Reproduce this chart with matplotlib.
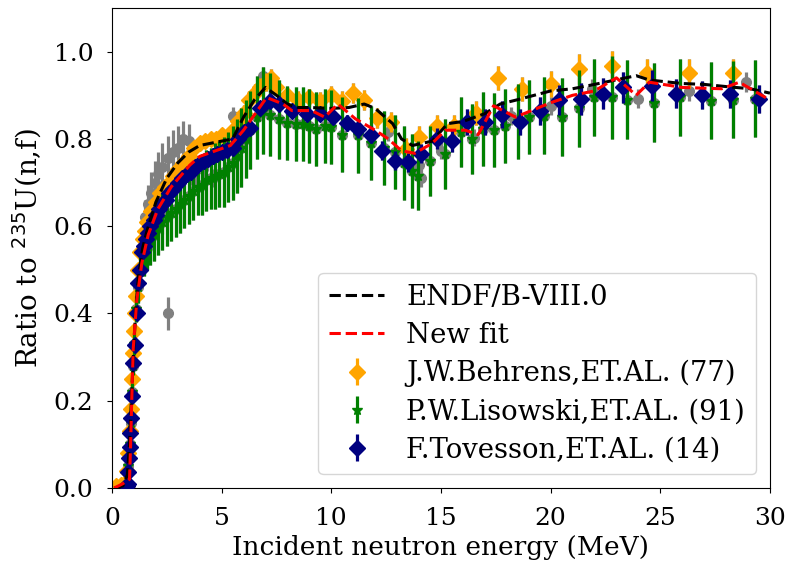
import numpy as np
import matplotlib
matplotlib.use("Agg")
import matplotlib.pyplot as plt

# evaluated curves
endf_e = [0.1, 0.5, 0.7, 0.8, 0.9, 1.0, 1.1, 1.2, 1.4, 1.6, 2.0, 2.5, 3.0, 3.5, 4.0,
          4.5, 5.0, 5.5, 6.0, 6.5, 7.0, 7.5, 8.0, 8.5, 9.0, 10.0, 10.8, 11.5, 12.0,
          12.8, 13.2, 13.7, 14.6, 15.3, 16.0, 17.0, 17.7, 18.5, 20.0, 21.0, 22.0,
          23.9, 24.5, 26.0, 27.0, 28.0, 29.1, 30.0]
endf_r = [0.0, 0.005, 0.03, 0.1, 0.22, 0.33, 0.42, 0.48, 0.55, 0.59, 0.655, 0.71,
          0.745, 0.77, 0.785, 0.79, 0.795, 0.80, 0.85, 0.89, 0.918, 0.90, 0.88,
          0.872, 0.872, 0.87, 0.872, 0.88, 0.87, 0.835, 0.80, 0.785, 0.795, 0.835,
          0.84, 0.858, 0.88, 0.89, 0.91, 0.915, 0.925, 0.945, 0.935, 0.927, 0.925,
          0.92, 0.915, 0.905]

fit_e = [0.1, 0.5, 0.8, 0.85, 0.9, 0.97, 1.13, 1.36, 1.65, 2.1, 2.7, 3.55, 4.0, 5.4,
         6.0, 7.05, 7.8, 8.2, 9.1, 9.7, 10.3, 11.1, 12.0, 12.6, 13.2, 13.8, 14.6,
         15.2, 16.1, 16.7, 17.4, 18.4, 20.0, 21.0, 22.0, 23.0, 23.9, 24.5, 26.0,
         27.8, 28.6, 29.8, 30.0]
fit_r = [0.0, 0.01, 0.02, 0.1, 0.2, 0.32, 0.43, 0.515, 0.58, 0.64, 0.69, 0.74, 0.76,
         0.785, 0.82, 0.895, 0.88, 0.865, 0.865, 0.85, 0.88, 0.846, 0.82, 0.80,
         0.773, 0.767, 0.79, 0.82, 0.82, 0.81, 0.876, 0.85, 0.883, 0.90, 0.91, 0.94,
         0.90, 0.93, 0.918, 0.915, 0.93, 0.895, 0.89]

# J.W.Behrens (77)
beh_e = [0.2, 0.4, 0.6, 0.7, 0.75, 0.8, 0.85, 0.9, 0.95, 1.0, 1.05, 1.1, 1.2, 1.3,
         1.4, 1.5, 1.6, 1.8, 2.0, 2.2, 2.4, 2.6, 2.8, 3.0, 3.25, 3.5, 3.75, 4.0,
         4.25, 4.5, 4.75, 5.0, 5.25, 5.5, 5.75, 6.0, 6.25, 6.5, 6.75, 7.0, 7.25,
         7.5, 8.0, 8.5, 9.0, 9.5, 10.0, 10.5, 11.0, 11.5, 12.1, 12.7, 13.4, 14.0,
         14.8, 15.6, 16.6, 17.6, 18.7, 20.0, 21.3, 22.8, 24.4, 26.3, 28.3]
beh_r = [0.005, 0.008, 0.012, 0.04, 0.08, 0.13, 0.18, 0.25, 0.31, 0.36, 0.40, 0.44,
         0.50, 0.54, 0.57, 0.59, 0.61, 0.635, 0.655, 0.675, 0.69, 0.70, 0.715, 0.73,
         0.745, 0.76, 0.78, 0.79, 0.795, 0.80, 0.80, 0.81, 0.805, 0.82, 0.84, 0.86,
         0.89, 0.905, 0.92, 0.93, 0.94, 0.92, 0.90, 0.89, 0.895, 0.888, 0.90, 0.888,
         0.906, 0.89, 0.847, 0.838, 0.778, 0.805, 0.83, 0.83, 0.86, 0.94, 0.915,
         0.925, 0.96, 0.967, 0.952, 0.95, 0.95]
beh_err = [0.005, 0.005, 0.005, 0.008, 0.008, 0.01, 0.01, 0.01, 0.01, 0.01, 0.01,
           0.01, 0.01, 0.012, 0.012, 0.012, 0.012, 0.015, 0.015, 0.015, 0.015, 0.015,
           0.015, 0.015, 0.015, 0.015, 0.015, 0.015, 0.015, 0.015, 0.015, 0.015,
           0.015, 0.015, 0.018, 0.018, 0.02, 0.02, 0.02, 0.02, 0.02, 0.02, 0.02,
           0.02, 0.02, 0.02, 0.022, 0.022, 0.023, 0.023, 0.023, 0.023, 0.024, 0.024,
           0.025, 0.025, 0.027, 0.027, 0.027, 0.03, 0.034, 0.034, 0.032, 0.033, 0.033]

# P.W.Lisowski (91)
lis_e = [0.75, 0.8, 0.85, 0.9, 0.95, 1.0, 1.1, 1.2, 1.3, 1.45, 1.6, 1.75, 1.9, 2.1,
         2.3, 2.5, 2.7, 2.9, 3.1, 3.3, 3.5, 3.7, 3.9, 4.1, 4.3, 4.5, 4.7, 4.9, 5.1,
         5.3, 5.5, 5.7, 5.9, 6.1, 6.3, 6.6, 6.9, 7.2, 7.6, 8.0, 8.4, 8.7, 9.0, 9.3,
         9.7, 10.0, 10.5, 11.2, 11.8, 12.4, 12.9, 13.3, 13.7, 13.95, 14.5, 15.2,
         15.9, 16.4, 16.9, 17.4, 17.9, 18.5, 19.0, 19.7, 20.5, 21.3, 22.0, 22.8,
         23.5, 24.7, 25.9, 27.3, 28.3, 29.3]
lis_r = [0.05, 0.1, 0.15, 0.22, 0.28, 0.33, 0.41, 0.46, 0.50, 0.53, 0.55, 0.565,
         0.58, 0.595, 0.61, 0.62, 0.63, 0.64, 0.65, 0.66, 0.67, 0.68, 0.69,
         0.695, 0.705, 0.71, 0.715, 0.72, 0.725, 0.735, 0.745, 0.76, 0.78, 0.80, 0.82,
         0.85, 0.865, 0.855, 0.845, 0.837, 0.835, 0.835, 0.83, 0.823, 0.83, 0.827,
         0.81, 0.808, 0.79, 0.78, 0.77, 0.745, 0.727, 0.716, 0.75, 0.766, 0.815,
         0.80, 0.823, 0.82, 0.83, 0.84, 0.85, 0.853, 0.85, 0.87, 0.895, 0.895, 0.89,
         0.883, 0.895, 0.888, 0.89, 0.892]
lis_err = [0.015, 0.015, 0.02, 0.02, 0.02, 0.025, 0.03, 0.035, 0.04, 0.045, 0.05,
           0.055, 0.06, 0.06, 0.065, 0.065, 0.065, 0.065, 0.065, 0.065, 0.065, 0.065,
           0.065, 0.07, 0.07, 0.07, 0.075, 0.075, 0.08, 0.08, 0.085, 0.085, 0.09,
           0.09, 0.09, 0.095, 0.1, 0.095, 0.09, 0.085, 0.085, 0.085, 0.085, 0.085,
           0.085, 0.085, 0.085, 0.085, 0.085, 0.085, 0.085, 0.085, 0.085, 0.08,
           0.08, 0.08, 0.08, 0.08, 0.085, 0.085, 0.085, 0.085, 0.085, 0.088, 0.09,
           0.088, 0.088, 0.095, 0.09, 0.09, 0.088, 0.088, 0.088, 0.088]

# F.Tovesson (14)
tov_e = [0.7, 0.73, 0.75, 0.78, 0.8, 0.82, 0.85, 0.9, 0.97, 1.05, 1.13, 1.2, 1.28,
         1.36, 1.45, 1.55, 1.65, 1.75, 1.9, 2.0, 2.15, 2.3, 2.45, 2.6, 2.8, 3.0, 3.2,
         3.4, 3.6, 3.8, 4.0, 4.2, 4.4, 4.6, 4.8, 5.0, 5.25, 5.5, 5.75, 6.0, 6.3,
         6.75, 7.2, 7.6, 8.2, 8.9, 9.5, 10.1, 10.7, 11.2, 11.8, 12.3, 12.9, 13.5,
         14.1, 14.8, 15.5, 16.2, 17.0, 17.8, 18.6, 19.5, 20.4, 21.4, 22.4, 23.3,
         24.6, 25.7, 26.9, 28.2, 29.5]
tov_r = [0.005, 0.01, 0.037, 0.068, 0.095, 0.125, 0.16, 0.21, 0.286, 0.327, 0.40,
         0.47, 0.50, 0.54, 0.555, 0.57, 0.585, 0.60, 0.615, 0.625, 0.64, 0.65, 0.66,
         0.675, 0.685, 0.70, 0.71, 0.72, 0.725, 0.735, 0.745, 0.75, 0.755, 0.76,
         0.765, 0.77, 0.775, 0.78, 0.80, 0.815, 0.826, 0.872, 0.888, 0.88, 0.865,
         0.858, 0.858, 0.85, 0.837, 0.823, 0.81, 0.773, 0.75, 0.746, 0.766, 0.80,
         0.796, 0.838, 0.838, 0.856, 0.838, 0.863, 0.89, 0.892, 0.904, 0.918, 0.922,
         0.904, 0.90, 0.904, 0.892]
tov_err = [0.005, 0.005, 0.005, 0.005, 0.006, 0.006, 0.007, 0.008, 0.008, 0.01,
           0.01, 0.01, 0.01, 0.01, 0.01, 0.01, 0.01, 0.012, 0.012, 0.012, 0.012,
           0.012, 0.012, 0.012, 0.012, 0.012, 0.012, 0.012, 0.012, 0.012, 0.012,
           0.012, 0.012, 0.012, 0.012, 0.012, 0.012, 0.012, 0.015, 0.015, 0.015,
           0.015, 0.015, 0.015, 0.015, 0.015, 0.015, 0.015, 0.018, 0.02, 0.02, 0.022,
           0.022, 0.022, 0.022, 0.024, 0.026, 0.03, 0.03, 0.03, 0.03, 0.032, 0.034,
           0.036, 0.036, 0.036, 0.036, 0.034, 0.032, 0.032, 0.032]

# other EXFOR data (grey only)
oth_e = [1.5, 1.65, 1.8, 1.96, 2.1, 2.3, 2.3, 2.55, 2.55, 2.8, 3.0, 3.25, 3.5, 3.7,
         4.15, 4.6, 5.5, 6.9, 8.4, 12.6, 14.0, 14.1, 15.0, 16.5, 18.2, 20.0, 21.9,
         24.0, 26.3, 28.9]
oth_r = [0.62, 0.65, 0.675, 0.70, 0.72, 0.735, 0.613, 0.757, 0.40, 0.77, 0.78, 0.80,
         0.795, 0.705, 0.73, 0.71, 0.853, 0.945, 0.835, 0.815, 0.74, 0.71, 0.773,
         0.803, 0.853, 0.876, 0.915, 0.892, 0.91, 0.93]
oth_err = [0.04, 0.045, 0.05, 0.05, 0.05, 0.055, 0.03, 0.05, 0.038, 0.05, 0.05, 0.04,
           0.04, 0.02, 0.02, 0.02, 0.02, 0.02, 0.02, 0.02, 0.02, 0.02, 0.02, 0.02,
           0.02, 0.02, 0.022, 0.022, 0.022, 0.023]

plt.rcParams['font.family'] = 'serif'
plt.rcParams['font.size'] = 18

fig = plt.figure(figsize=(7.88, 5.66), dpi=100)
ax = fig.add_axes([0.1421, 0.1378, 0.835, 0.848])

all_e = beh_e + lis_e + tov_e + oth_e
all_r = beh_r + lis_r + tov_r + oth_r
all_err = beh_err + lis_err + tov_err + oth_err
ax.errorbar(all_e, all_r, yerr=all_err, fmt='o', color='gray', ms=7,
            elinewidth=2.3, zorder=1)

h1 = ax.errorbar(beh_e, beh_r, yerr=beh_err, fmt='D', color='orange', ms=8,
                 elinewidth=2.3, label='J.W.Behrens,ET.AL. (77)', zorder=2)
h2 = ax.errorbar(lis_e, lis_r, yerr=lis_err, fmt='*', color='green', ms=7,
                 elinewidth=2.3, label='P.W.Lisowski,ET.AL. (91)', zorder=3)
h3 = ax.errorbar(tov_e, tov_r, yerr=tov_err, fmt='D', color='navy', ms=8,
                 elinewidth=2.3, label='F.Tovesson,ET.AL. (14)', zorder=4)
l1, = ax.plot(endf_e, endf_r, '--', color='black', lw=2.2, label='ENDF/B-VIII.0',
              zorder=5)
l2, = ax.plot(fit_e, fit_r, '--', color='red', lw=2.2, label='New fit', zorder=6)

ax.set_xlim(0, 30)
ax.set_ylim(0, 1.1)
ax.set_xticks([0, 5, 10, 15, 20, 25, 30])
ax.set_yticks([0.0, 0.2, 0.4, 0.6, 0.8, 1.0])
ax.tick_params(axis='both', pad=10)
ax.set_xlabel('Incident neutron energy (MeV)', fontsize=19, labelpad=4)
ax.set_ylabel(r'Ratio to $^{235}$U(n,f)', fontsize=20, labelpad=7)
ax.legend(handles=[l1, l2, h1, h2, h3], loc='lower right', fontsize=19.8,
          labelspacing=0.4)

fig.savefig('out.png', dpi=100)
